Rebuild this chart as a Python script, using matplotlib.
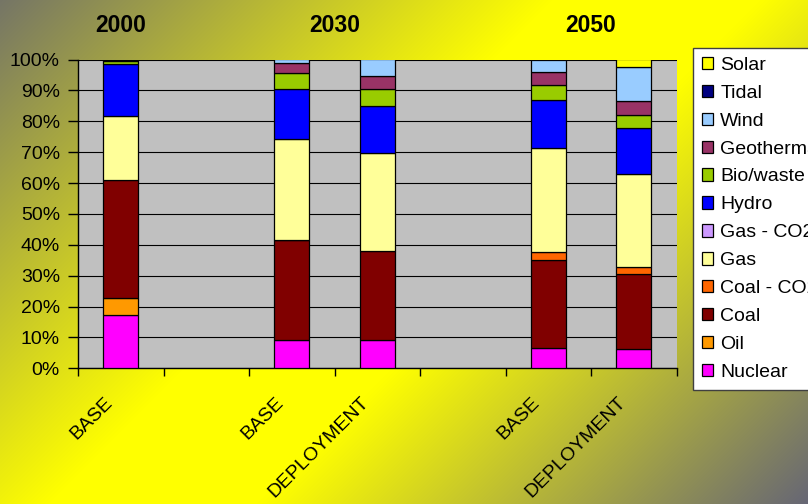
import numpy as np
import matplotlib
matplotlib.use("Agg")
import matplotlib.pyplot as plt
import matplotlib.transforms as mtransforms
from matplotlib.colors import to_rgb

plt.rcParams['font.family'] = ['Liberation Sans', 'DejaVu Sans']

# Scenario columns (blank entries leave a gap between years)
categories = ["BASE", "", "BASE", "DEPLOYMENT", "", "BASE", "DEPLOYMENT"]
years = ["2000", "2030", "2050"]
year_centers = [0, 2.5, 5.5]

# Generation share (%) per source, one value per column, bottom to top
sources = ["Nuclear", "Oil", "Coal", "Coal - CO2", "Gas", "Gas - CO2",
           "Hydro", "Bio/waste", "Geothermal", "Wind", "Tidal", "Solar"]
nuclear    = [17.1, 0, 9.2, 9.2, 0, 6.5, 6.2]
oil        = [5.8, 0, 0.0, 0.0, 0, 0.0, 0.0]
coal       = [38.0, 0, 32.2, 28.9, 0, 28.6, 24.2]
coal_co2   = [0.0, 0, 0.3, 0.0, 0, 2.6, 2.3]
gas        = [20.8, 0, 32.7, 31.5, 0, 33.5, 30.2]
gas_co2    = [0.0, 0, 0.0, 0.0, 0, 0.0, 0.0]
hydro      = [17.0, 0, 16.2, 15.3, 0, 15.6, 14.8]
bio_waste  = [0.7, 0, 5.0, 5.4, 0, 4.8, 4.4]
geothermal = [0.3, 0, 3.4, 4.5, 0, 4.3, 4.4]
wind       = [0.3, 0, 1.0, 5.2, 0, 4.1, 11.1]
tidal      = [0.0, 0, 0.0, 0.0, 0, 0.0, 0.0]
solar      = [0.0, 0, 0.0, 0.0, 0, 0.0, 2.4]

series = [nuclear, oil, coal, coal_co2, gas, gas_co2,
          hydro, bio_waste, geothermal, wind, tidal, solar]
colors = ["#FF00FF", "#FF9900", "#800000", "#FF6600", "#FFFF99", "#CC99FF",
          "#0000FF", "#99CC00", "#993366", "#99CCFF", "#000080", "#FFFF00"]

W, H = 808, 504
fig = plt.figure(figsize=(W / 100, H / 100), dpi=100)

# diagonal grey-yellow-grey backdrop
xx, yy = np.meshgrid(np.arange(W), np.arange(H))
t = (xx + yy) / (W + H)
stops = [0.0, 0.42, 0.58, 1.0]
stop_cols = [(0.46, 0.46, 0.40), to_rgb("#FFFF00"), to_rgb("#FFFF00"), (0.40, 0.40, 0.46)]
bg = np.zeros((H, W, 3))
for c in range(3):
    bg[..., c] = np.interp(t, stops, [s[c] for s in stop_cols])
bg_ax = fig.add_axes([0, 0, 1, 1], zorder=-1)
bg_ax.imshow(bg, aspect="auto", interpolation="bilinear")
bg_ax.axis("off")

ax = fig.add_axes([78 / W, 1 - 368.3 / H, (676.5 - 78) / W, (368.3 - 59.5) / H])
ax.set_facecolor("#C0C0C0")

x = np.arange(len(categories))
base = np.zeros(len(categories))
handles = []
for name, vals, col in zip(sources, series, colors):
    vals = np.array(vals, dtype=float)
    keep = vals > 0
    ax.bar(x[keep], vals[keep], width=0.41, bottom=base[keep].copy(),
           color=col, edgecolor="black", linewidth=0.9, label=name, zorder=3)
    base = base + vals
    handles.append(plt.Rectangle((0, 0), 1, 1, facecolor=col,
                                 edgecolor="black", linewidth=0.9))

ax.set_xlim(-0.5, len(categories) - 0.5)
ax.set_ylim(0, 100)
ax.set_yticks(np.arange(0, 101, 10))
ax.set_yticklabels([f"{v}%" for v in range(0, 101, 10)])
ax.yaxis.grid(True, color="black", linewidth=0.8, zorder=1)
ax.set_axisbelow(True)

for s in ["top", "right"]:
    ax.spines[s].set_visible(False)
ax.spines["left"].set_linewidth(1.0)
ax.spines["bottom"].set_linewidth(1.0)

ax.tick_params(axis="y", direction="out", length=7, width=1, pad=6, labelsize=14)

# category labels under each bar, boundary tick marks between columns
shown = [i for i, c in enumerate(categories) if c]
ax.set_xticks(shown)
ax.set_xticklabels([categories[i] for i in shown])
ax.set_xticks(np.arange(len(categories) + 1) - 0.5, minor=True)
ax.tick_params(axis="x", which="major", length=0, pad=18.5, labelsize=14)
ax.tick_params(axis="x", which="minor", direction="out", length=6, width=1)
shift = mtransforms.ScaledTranslation(-17 / 100, 0, fig.dpi_scale_trans)
for lab in ax.get_xticklabels():
    plt.setp(lab, rotation=45, ha="right", va="top", rotation_mode="anchor")
    lab.set_transform(lab.get_transform() + shift)

for yr, xc in zip(years, year_centers):
    ax.text(xc, 1.090, yr, transform=ax.get_xaxis_transform(),
            ha="center", va="baseline", fontsize=16.5, fontweight="bold")

leg = fig.legend(handles[::-1], sources[::-1], loc="upper left",
                 bbox_to_anchor=(693 / W, 1 - 48 / H), fontsize=14,
                 frameon=True, fancybox=False, framealpha=1,
                 edgecolor="#404040", handlelength=0.6, handleheight=0.6,
                 handletextpad=0.35, labelspacing=0.56, borderpad=0.45,
                 borderaxespad=0)
leg.get_frame().set_linewidth(1.0)

fig.savefig("out.png", dpi=100)
